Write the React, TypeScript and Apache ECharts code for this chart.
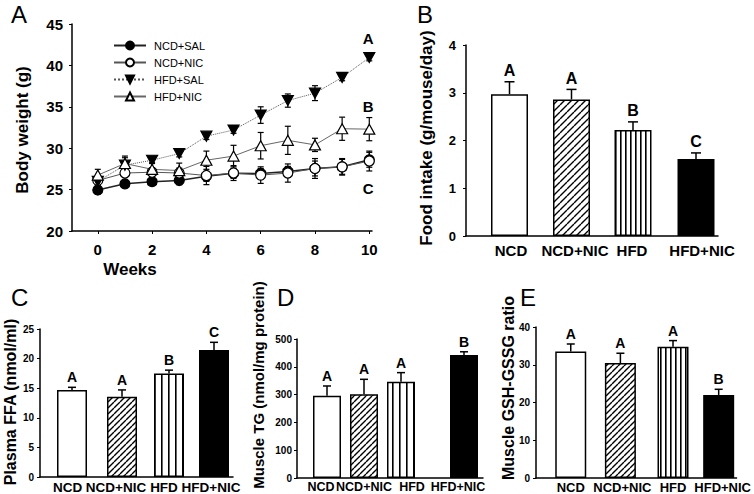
import React, { useEffect, useRef } from 'react';
import * as echarts from 'echarts';

const FONT = '"Liberation Sans", Arial, Helvetica, sans-serif';

// ---------- Panel A: body weight ----------
const WEEKS = [0, 1, 2, 3, 4, 5, 6, 7, 8, 9, 10];
const A_X_TICKS = [0, 2, 4, 6, 8, 10];
const NCD_SAL = [24.95, 25.7, 25.96, 26.1, 26.6, 26.97, 26.95, 27.2, 27.55, 27.75, 28.6];
const NCD_SAL_ERR = [0.5, 0.4, 0.4, 0.5, 0.6, 0.6, 0.6, 0.6, 0.9, 0.9, 0.9];
const NCD_NIC = [26.1, 27.0, 27.1, 27.0, 26.7, 27.0, 26.75, 27.0, 27.55, 27.75, 28.45];
const NCD_NIC_ERR = [0.4, 0.4, 0.5, 0.6, 1.1, 0.9, 1.0, 1.1, 1.2, 1.0, 1.2];
const HFD_SAL = [26.0, 27.95, 28.55, 29.35, 31.45, 32.2, 34.0, 35.75, 36.65, 38.55, 40.95];
const HFD_SAL_ERR = [0.4, 0.9, 0.4, 0.4, 0.4, 0.4, 1.0, 0.8, 0.9, 0.4, 0.4];
const HFD_NIC = [26.75, 28.15, 27.45, 27.3, 28.55, 29.05, 30.3, 30.95, 30.4, 32.35, 32.3];
const HFD_NIC_ERR = [0.7, 0.9, 0.8, 0.9, 1.1, 1.3, 1.6, 1.7, 0.8, 1.4, 1.4];
const A_SIG = ['A', 'B', 'C'];
const A_SIG_Y = [43.2, 35.0, 25.1];

// ---------- Bar panels ----------
const GROUPS = ['NCD', 'NCD+NIC', 'HFD', 'HFD+NIC'];
const FOOD = [2.97, 2.86, 2.22, 1.61];
const FOOD_ERR = [0.26, 0.21, 0.17, 0.13];
const FOOD_SIG = ['A', 'A', 'B', 'C'];
const FFA = [14.7, 13.56, 17.5, 21.45];
const FFA_ERR = [0.45, 1.15, 0.55, 1.3];
const FFA_SIG = ['A', 'A', 'B', 'C'];
const TG = [296, 301, 346, 442];
const TG_ERR = [35, 54, 33, 12];
const TG_SIG = ['A', 'A', 'A', 'B'];
const GSH = [33.5, 30.45, 34.8, 22.0];
const GSH_ERR = [2.0, 2.6, 1.6, 1.5];
const GSH_SIG = ['A', 'A', 'A', 'B'];

function hatchPattern(size: number, lw: number) {
  const c = document.createElement('canvas');
  c.width = size;
  c.height = size;
  const ctx = c.getContext('2d')!;
  ctx.fillStyle = '#fff';
  ctx.fillRect(0, 0, size, size);
  ctx.strokeStyle = '#000';
  ctx.lineWidth = lw;
  ctx.beginPath();
  for (const k of [-1, 0, 1]) {
    ctx.moveTo(k * size, size);
    ctx.lineTo(k * size + size, 0);
  }
  ctx.stroke();
  return { image: c.toDataURL(), repeat: 'repeat', imageWidth: size, imageHeight: size };
}

function stripePattern(period: number, lw: number) {
  const c = document.createElement('canvas');
  c.width = period;
  c.height = 4;
  const ctx = c.getContext('2d')!;
  ctx.fillStyle = '#fff';
  ctx.fillRect(0, 0, period, 4);
  ctx.fillStyle = '#000';
  ctx.fillRect(0, 0, lw, 4);
  return { image: c.toDataURL(), repeat: 'repeat', imageWidth: period, imageHeight: 4 };
}

function errorSeries(gi: number, pts: number[][], o: { both: boolean; cap: number; sig?: string[]; font?: string; gap?: number; z?: number; lw?: number }) {
  return {
    type: 'custom',
    xAxisIndex: gi,
    yAxisIndex: gi,
    z: o.z ?? 4,
    silent: true,
    data: pts,
    encode: { x: 0, y: 1 },
    renderItem: (params: any, api: any) => {
      const x = api.value(0);
      const m = api.value(1);
      const e = api.value(2);
      const top = api.coord([x, m + e]);
      const bot = api.coord([x, o.both ? m - e : m]);
      const st = { stroke: '#000', lineWidth: o.lw ?? 1.5 };
      const ch: any[] = [
        { type: 'line', shape: { x1: top[0], y1: top[1], x2: bot[0], y2: bot[1] }, style: st },
        { type: 'line', shape: { x1: top[0] - o.cap, y1: top[1], x2: top[0] + o.cap, y2: top[1] }, style: st },
      ];
      if (o.both) {
        ch.push({ type: 'line', shape: { x1: bot[0] - o.cap, y1: bot[1], x2: bot[0] + o.cap, y2: bot[1] }, style: st });
      }
      if (o.sig) {
        ch.push({
          type: 'text',
          x: top[0],
          y: top[1] - (o.gap ?? 3),
          style: { text: o.sig[params.dataIndex], fill: '#000', font: o.font, align: 'center', verticalAlign: 'bottom' },
        });
      }
      return { type: 'group', children: ch };
    },
  };
}

export default function App() {
  const ref = useRef<HTMLDivElement>(null);
  useEffect(() => {
    const chart = echarts.init(ref.current!, null, { renderer: 'svg' });

    const panels = [
      {
        grid: { left: 466, top: 45, width: 252, height: 191 },
        yMax: 4, yInt: 1, values: FOOD, errs: FOOD_ERR, sig: FOOD_SIG,
        barPos: [43.5, 105.5, 167, 230], labelPos: [45, 109, 166, 236], barWidth: 37,
        hatch: 7, stripe: 5, labelFont: 15, labelMargin: 7, tickFont: 13, tickMargin: 10,
        letterFont: 'bold 16px ' + FONT, cap: 5,
      },
      {
        grid: { left: 40, top: 329, width: 193, height: 148 },
        yMax: 25, yInt: 5, values: FFA, errs: FFA_ERR, sig: FFA_SIG,
        barPos: [32, 82, 129, 174], labelPos: [27.6, 76, 124, 171], barWidth: 30,
        hatch: 6, stripe: 7, labelFont: 13.5, labelMargin: 3, tickFont: 10, tickMargin: 6,
        letterFont: 'bold 14px ' + FONT, cap: 4,
      },
      {
        grid: { left: 297, top: 339, width: 186, height: 139 },
        yMax: 500, yInt: 100, values: TG, errs: TG_ERR, sig: TG_SIG,
        barPos: [30, 67, 104, 167], labelPos: [24, 67, 115, 161], barWidth: 28,
        hatch: 6, stripe: 7, labelFont: 12.5, labelMargin: 2, tickFont: 10, tickMargin: 5,
        letterFont: 'bold 14px ' + FONT, cap: 4,
      },
      {
        grid: { left: 536, top: 327, width: 202, height: 153 },
        yMax: 40, yInt: 10, values: GSH, errs: GSH_ERR, sig: GSH_SIG,
        barPos: [35, 85, 138, 184], labelPos: [35, 87, 138, 188], barWidth: 31,
        hatch: 6, stripe: 5, labelFont: 13, labelMargin: 3, tickFont: 10, tickMargin: 6,
        letterFont: 'bold 14px ' + FONT, cap: 4,
      },
    ];

    const axisLine = { show: true, onZero: false, lineStyle: { color: '#000', width: 1.5 } };

    const grids: any[] = [{ left: 72, top: 24, width: 300, height: 207 }];
    const xAxes: any[] = [
      {
        type: 'value', gridIndex: 0, min: -0.95, max: 10.1,
        axisLine, splitLine: { show: false },
        axisTick: { show: true, customValues: A_X_TICKS, length: 3, lineStyle: { color: '#000' } },
        axisLabel: { customValues: A_X_TICKS, fontSize: 15, fontWeight: 'bold', color: '#000', margin: 11, fontFamily: FONT },
      },
    ];
    const yAxes: any[] = [
      {
        type: 'value', gridIndex: 0, min: 20, max: 45, interval: 5,
        axisLine, splitLine: { show: false },
        axisTick: { show: true, length: 3, lineStyle: { color: '#000' } },
        axisLabel: { fontSize: 15, fontWeight: 'bold', color: '#000', margin: 9, fontFamily: FONT },
      },
    ];

    const aDefs = [
      { name: 'NCD+SAL', v: NCD_SAL, e: NCD_SAL_ERR, symbol: 'circle', rot: 0, fill: '#000', line: { color: '#222', width: 1.5, type: 'solid' } },
      { name: 'NCD+NIC', v: NCD_NIC, e: NCD_NIC_ERR, symbol: 'circle', rot: 0, fill: '#fff', line: { color: '#555', width: 1, type: 'solid' } },
      { name: 'HFD+SAL', v: HFD_SAL, e: HFD_SAL_ERR, symbol: 'triangle', rot: 180, fill: '#000', line: { color: '#555', width: 1, type: 'dotted' } },
      { name: 'HFD+NIC', v: HFD_NIC, e: HFD_NIC_ERR, symbol: 'triangle', rot: 0, fill: '#fff', line: { color: '#666', width: 1, type: 'solid' } },
    ];

    const series: any[] = [];
    aDefs.forEach((d) => {
      series.push(errorSeries(0, WEEKS.map((w, i) => [w, d.v[i], d.e[i]]), { both: true, cap: 3, z: 1, lw: 1.2 }));
    });
    aDefs.forEach((d) => {
      series.push({
        type: 'line', name: d.name, xAxisIndex: 0, yAxisIndex: 0,
        data: WEEKS.map((w, i) => [w, d.v[i]]),
        symbol: d.symbol, symbolSize: d.symbol === 'circle' ? 10 : [11, 10], symbolRotate: d.rot, showAllSymbol: true,
        itemStyle: { color: d.fill, borderColor: '#000', borderWidth: 1.2 },
        lineStyle: d.line, z: 3,
      });
    });
    series.push({
      type: 'custom', xAxisIndex: 0, yAxisIndex: 0, silent: true, z: 5,
      data: A_SIG_Y.map((y) => [10, y]),
      encode: { x: 0, y: 1 },
      renderItem: (params: any, api: any) => {
        const p = api.coord([api.value(0), api.value(1)]);
        return {
          type: 'text', x: p[0] - 1, y: p[1],
          style: { text: A_SIG[params.dataIndex], fill: '#000', font: 'bold 15px ' + FONT, align: 'center', verticalAlign: 'middle' },
        };
      },
    });

    panels.forEach((p, k) => {
      const gi = k + 1;
      grids.push(p.grid);
      xAxes.push({
        type: 'value', gridIndex: gi, min: 0, max: p.grid.width,
        axisLine, splitLine: { show: false }, axisTick: { show: false },
        axisLabel: {
          customValues: p.labelPos,
          showMinLabel: true, showMaxLabel: true, hideOverlap: false,
          formatter: (v: number) => {
            let best = 0;
            p.labelPos.forEach((q, i) => { if (Math.abs(q - v) < Math.abs(p.labelPos[best] - v)) best = i; });
            return GROUPS[best];
          },
          fontSize: p.labelFont, fontWeight: 'bold', color: '#000', margin: p.labelMargin, fontFamily: FONT,
        },
      });
      yAxes.push({
        type: 'value', gridIndex: gi, min: 0, max: p.yMax, interval: p.yInt,
        axisLine, splitLine: { show: false },
        axisTick: { show: true, length: 3, lineStyle: { color: '#000' } },
        axisLabel: { fontSize: p.tickFont, fontWeight: 'bold', color: '#000', margin: p.tickMargin, fontFamily: FONT },
      });
      const styles = [
        { color: '#fff', borderColor: '#000', borderWidth: 1.5 },
        { color: hatchPattern(p.hatch, 1.4), borderColor: '#000', borderWidth: 1.5 },
        { color: stripePattern(p.stripe, 1.6), borderColor: '#000', borderWidth: 1.5 },
        { color: '#000', borderColor: '#000', borderWidth: 1.5 },
      ];
      series.push({
        type: 'bar', xAxisIndex: gi, yAxisIndex: gi, barWidth: p.barWidth, z: 2, silent: true,
        data: p.values.map((v, i) => ({ value: [p.barPos[i], v], itemStyle: styles[i] })),
      });
      series.push(errorSeries(gi, p.values.map((v, i) => [p.barPos[i], v, p.errs[i]]), {
        both: false, cap: p.cap, sig: p.sig, font: p.letterFont, gap: 3, z: 4,
      }));
    });

    const txt = (text: string, x: number, y: number, size: number, bold: boolean, rot = 0, align = 'center') => ({
      type: 'text', x, y, rotation: rot,
      style: { text, fill: '#000', font: (bold ? 'bold ' : '') + size + 'px ' + FONT, align, verticalAlign: 'middle' },
    });
    const R = Math.PI / 2;

    const option: any = {
      animation: false,
      backgroundColor: '#fff',
      grid: grids,
      xAxis: xAxes,
      yAxis: yAxes,
      legend: {
        data: aDefs.map((d) => d.name),
        orient: 'vertical', left: 108, top: 35,
        itemWidth: 32, itemHeight: 10, itemGap: 6,
        textStyle: { fontSize: 11, fontFamily: FONT, color: '#000', padding: [0, 0, 0, 3] },
      },
      graphic: [
        txt('A', 11, 14, 24, false, 0, 'left'),
        txt('B', 417, 14, 24, false, 0, 'left'),
        txt('C', 11, 297, 24, false, 0, 'left'),
        txt('D', 277, 297, 24, false, 0, 'left'),
        txt('E', 520, 297, 24, false, 0, 'left'),
        txt('Weeks', 130, 269, 17, true),
        txt('Body weight (g)', 22, 130, 17, true, R),
        txt('Food intake (g/mouse/day)', 426, 138, 17, true, R),
        txt('Plasma FFA (nmol/ml)', 10, 402, 16, true, R),
        txt('Muscle TG (nmol/mg protein)', 258, 385, 15, true, R),
        txt('Muscle GSH-GSSG ratio', 508, 388, 16, true, R),
      ],
      series,
    };
    chart.setOption(option);
    return () => chart.dispose();
  }, []);
  return <div ref={ref} style={{ position: 'absolute', left: 0, top: 0, width: 754, height: 494, background: '#fff' }} />;
}
